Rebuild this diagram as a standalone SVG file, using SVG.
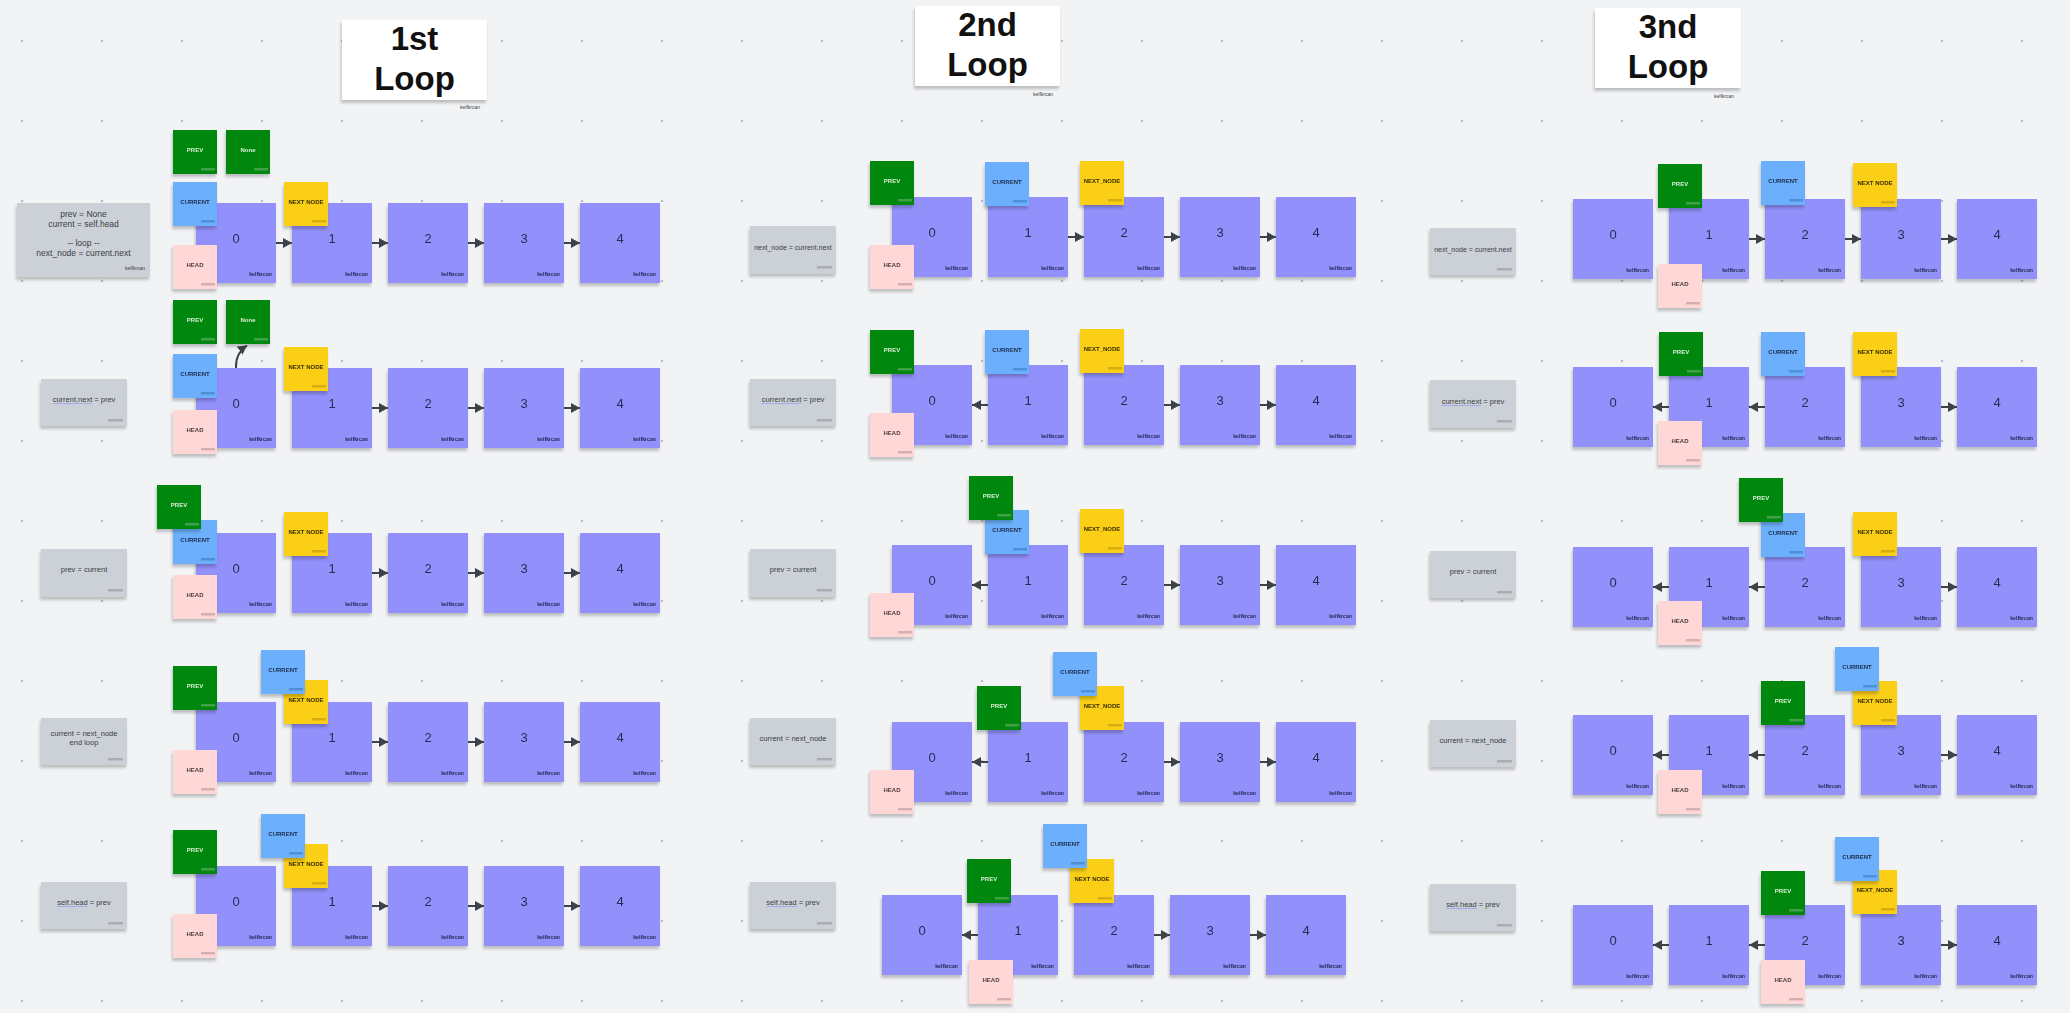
<svg xmlns="http://www.w3.org/2000/svg" width="2070" height="1013" viewBox="0 0 2070 1013">
<style>
text{font-family:"Liberation Sans",Arial,sans-serif}
.sh{filter:url(#shadow)}
.nb{fill:#9290fb}
.nt{font-size:13px;fill:#2a2b58;text-anchor:middle}
.sg{font-size:5.2px;font-weight:bold;fill:#2a2b58;text-anchor:end}
.lb{font-size:6px;font-weight:bold;text-anchor:middle}
.pv{fill:#06870f}.pvb{fill:#3fa046}.pvt{fill:#d6efd6}
.cu{fill:#6cb0fd}.cub{fill:#4f8fd6}.cut{fill:#1d2b48}
.nx{fill:#fbcf17}.nxb{fill:#d6ad10}.nxt{fill:#3a3000}
.hd{fill:#ffd7d7}.hdb{fill:#d6b0b0}.hdt{fill:#4d3c3c}
.gn{fill:#ccd1d8}.gnb{fill:#a9adb3}
.gt{font-size:7.5px;fill:#3b3d42;text-anchor:middle}
.gt8{font-size:8.5px;fill:#3b3d42;text-anchor:middle}
.gt7{font-size:7px;fill:#3b3d42;text-anchor:middle}
.gs{font-size:5px;fill:#3b3d42;text-anchor:end}
.tb{fill:#ffffff}
.tt{font-size:33px;font-weight:bold;fill:#111111;text-anchor:middle}
.cn{stroke:#3d4148;stroke-width:2;fill:none;marker-end:url(#ah)}
.ul{stroke:#8c8ff0;stroke-width:0.6}
</style>
<defs>
<pattern id="dots" patternUnits="userSpaceOnUse" x="-18" y="1" width="80" height="80">
<circle cx="40" cy="40" r="1.3" fill="#b9bdc4"/>
</pattern>
<filter id="shadow" x="-20%" y="-20%" width="140%" height="150%">
<feDropShadow dx="-1" dy="3" stdDeviation="1.5" flood-color="#000000" flood-opacity="0.22"/>
</filter>
<marker id="ah" markerUnits="userSpaceOnUse" markerWidth="10" markerHeight="11" refX="9" refY="5" orient="auto">
<path d="M0,0 L9,5 L0,10 Z" fill="#3d4148"/>
</marker>
</defs>
<rect width="2070" height="1013" fill="#f2f3f5"/>
<rect width="2070" height="1013" fill="url(#dots)"/>

<!-- Titles -->
<g id="title1"><rect class="tb sh" x="342" y="20" width="145" height="80"/><text class="tt" x="414.5" y="50">1st</text><text class="tt" x="414.5" y="90">Loop</text><text class="gs" x="480" y="109">kelfkrcan</text></g>
<g id="title2"><rect class="tb sh" x="915" y="6" width="145" height="80"/><text class="tt" x="987.5" y="36">2nd</text><text class="tt" x="987.5" y="76">Loop</text><text class="gs" x="1053" y="96">kelfkrcan</text></g>
<g id="title3"><rect class="tb sh" x="1595" y="8" width="146" height="80"/><text class="tt" x="1668" y="38">3nd</text><text class="tt" x="1668" y="78">Loop</text><text class="gs" x="1734" y="98">kelfkrcan</text></g>

<!-- Code notes -->
<g id="l1-note1"><rect class="gn sh" x="17" y="203" width="133" height="74"/><text class="gt8" x="83.5" y="217">prev = None</text><text class="gt8" x="83.5" y="227">current = self.head</text><text class="gt8" x="83.5" y="246">-- loop --</text><text class="gt8" x="83.5" y="256">next_node = current.next</text><text class="gs" x="145" y="270">kelfkrcan</text></g>
<g id="l1-note2"><rect class="gn sh" x="41" y="379" width="86" height="47"/><rect class="gnb" x="108" y="419" width="15" height="2.5"/><text class="gt" x="84" y="402">current.next = prev</text><line class="ul" x1="52.5" y1="403.5" x2="92" y2="403.5"/></g>
<g id="l1-note3"><rect class="gn sh" x="41" y="549" width="86" height="48"/><rect class="gnb" x="108" y="589" width="15" height="2.5"/><text class="gt" x="84" y="572">prev = current</text></g>
<g id="l1-note4"><rect class="gn sh" x="41" y="718" width="86" height="47"/><rect class="gnb" x="108" y="758" width="15" height="2.5"/><text class="gt" x="84" y="736">current = next_node</text><text class="gt" x="84" y="745">end loop</text></g>
<g id="l1-note5"><rect class="gn sh" x="41" y="882" width="86" height="47"/><rect class="gnb" x="108" y="922" width="15" height="2.5"/><text class="gt" x="84" y="905">self.head = prev</text><line class="ul" x1="57.2" y1="906.5" x2="87.6" y2="906.5"/></g>

<g id="l2-note1"><rect class="gn sh" x="750" y="226" width="86" height="48"/><rect class="gnb" x="817" y="266" width="15" height="2.5"/><text class="gt7" x="793" y="250">next_node = current.next</text></g>
<g id="l2-note2"><rect class="gn sh" x="750" y="379" width="86" height="47"/><rect class="gnb" x="817" y="419" width="15" height="2.5"/><text class="gt" x="793" y="402">current.next = prev</text><line class="ul" x1="761.5" y1="403.5" x2="801" y2="403.5"/></g>
<g id="l2-note3"><rect class="gn sh" x="750" y="549" width="86" height="48"/><rect class="gnb" x="817" y="589" width="15" height="2.5"/><text class="gt" x="793" y="572">prev = current</text></g>
<g id="l2-note4"><rect class="gn sh" x="750" y="718" width="86" height="47"/><rect class="gnb" x="817" y="758" width="15" height="2.5"/><text class="gt" x="793" y="741">current = next_node</text></g>
<g id="l2-note5"><rect class="gn sh" x="750" y="882" width="86" height="47"/><rect class="gnb" x="817" y="922" width="15" height="2.5"/><text class="gt" x="793" y="905">self.head = prev</text><line class="ul" x1="766.2" y1="906.5" x2="796.6" y2="906.5"/></g>

<g id="l3-note1"><rect class="gn sh" x="1430" y="228" width="86" height="47"/><rect class="gnb" x="1497" y="268" width="15" height="2.5"/><text class="gt7" x="1473" y="252">next_node = current.next</text></g>
<g id="l3-note2"><rect class="gn sh" x="1430" y="380" width="86" height="48"/><rect class="gnb" x="1497" y="420" width="15" height="2.5"/><text class="gt" x="1473" y="404">current.next = prev</text><line class="ul" x1="1441.5" y1="405.5" x2="1481" y2="405.5"/></g>
<g id="l3-note3"><rect class="gn sh" x="1430" y="551" width="86" height="47"/><rect class="gnb" x="1497" y="591" width="15" height="2.5"/><text class="gt" x="1473" y="574">prev = current</text></g>
<g id="l3-note4"><rect class="gn sh" x="1430" y="720" width="86" height="47"/><rect class="gnb" x="1497" y="760" width="15" height="2.5"/><text class="gt" x="1473" y="743">current = next_node</text></g>
<g id="l3-note5"><rect class="gn sh" x="1430" y="884" width="86" height="47"/><rect class="gnb" x="1497" y="924" width="15" height="2.5"/><text class="gt" x="1473" y="907">self.head = prev</text><line class="ul" x1="1446.2" y1="908.5" x2="1476.6" y2="908.5"/></g>

<!-- Loop 1 nodes -->
<g id="l1r1n0" class="sh"><rect class="nb" x="196" y="203" width="80" height="80"/><text class="nt" x="236" y="243">0</text><text class="sg" x="272" y="276">kelfkrcan</text></g>
<g id="l1r1n1" class="sh"><rect class="nb" x="292" y="203" width="80" height="80"/><text class="nt" x="332" y="243">1</text><text class="sg" x="368" y="276">kelfkrcan</text></g>
<g id="l1r1n2" class="sh"><rect class="nb" x="388" y="203" width="80" height="80"/><text class="nt" x="428" y="243">2</text><text class="sg" x="464" y="276">kelfkrcan</text></g>
<g id="l1r1n3" class="sh"><rect class="nb" x="484" y="203" width="80" height="80"/><text class="nt" x="524" y="243">3</text><text class="sg" x="560" y="276">kelfkrcan</text></g>
<g id="l1r1n4" class="sh"><rect class="nb" x="580" y="203" width="80" height="80"/><text class="nt" x="620" y="243">4</text><text class="sg" x="656" y="276">kelfkrcan</text></g>

<g id="l1r2n0" class="sh"><rect class="nb" x="196" y="368" width="80" height="80"/><text class="nt" x="236" y="408">0</text><text class="sg" x="272" y="441">kelfkrcan</text></g>
<g id="l1r2n1" class="sh"><rect class="nb" x="292" y="368" width="80" height="80"/><text class="nt" x="332" y="408">1</text><text class="sg" x="368" y="441">kelfkrcan</text></g>
<g id="l1r2n2" class="sh"><rect class="nb" x="388" y="368" width="80" height="80"/><text class="nt" x="428" y="408">2</text><text class="sg" x="464" y="441">kelfkrcan</text></g>
<g id="l1r2n3" class="sh"><rect class="nb" x="484" y="368" width="80" height="80"/><text class="nt" x="524" y="408">3</text><text class="sg" x="560" y="441">kelfkrcan</text></g>
<g id="l1r2n4" class="sh"><rect class="nb" x="580" y="368" width="80" height="80"/><text class="nt" x="620" y="408">4</text><text class="sg" x="656" y="441">kelfkrcan</text></g>

<g id="l1r3n0" class="sh"><rect class="nb" x="196" y="533" width="80" height="80"/><text class="nt" x="236" y="573">0</text><text class="sg" x="272" y="606">kelfkrcan</text></g>
<g id="l1r3n1" class="sh"><rect class="nb" x="292" y="533" width="80" height="80"/><text class="nt" x="332" y="573">1</text><text class="sg" x="368" y="606">kelfkrcan</text></g>
<g id="l1r3n2" class="sh"><rect class="nb" x="388" y="533" width="80" height="80"/><text class="nt" x="428" y="573">2</text><text class="sg" x="464" y="606">kelfkrcan</text></g>
<g id="l1r3n3" class="sh"><rect class="nb" x="484" y="533" width="80" height="80"/><text class="nt" x="524" y="573">3</text><text class="sg" x="560" y="606">kelfkrcan</text></g>
<g id="l1r3n4" class="sh"><rect class="nb" x="580" y="533" width="80" height="80"/><text class="nt" x="620" y="573">4</text><text class="sg" x="656" y="606">kelfkrcan</text></g>

<g id="l1r4n0" class="sh"><rect class="nb" x="196" y="702" width="80" height="80"/><text class="nt" x="236" y="742">0</text><text class="sg" x="272" y="775">kelfkrcan</text></g>
<g id="l1r4n1" class="sh"><rect class="nb" x="292" y="702" width="80" height="80"/><text class="nt" x="332" y="742">1</text><text class="sg" x="368" y="775">kelfkrcan</text></g>
<g id="l1r4n2" class="sh"><rect class="nb" x="388" y="702" width="80" height="80"/><text class="nt" x="428" y="742">2</text><text class="sg" x="464" y="775">kelfkrcan</text></g>
<g id="l1r4n3" class="sh"><rect class="nb" x="484" y="702" width="80" height="80"/><text class="nt" x="524" y="742">3</text><text class="sg" x="560" y="775">kelfkrcan</text></g>
<g id="l1r4n4" class="sh"><rect class="nb" x="580" y="702" width="80" height="80"/><text class="nt" x="620" y="742">4</text><text class="sg" x="656" y="775">kelfkrcan</text></g>

<g id="l1r5n0" class="sh"><rect class="nb" x="196" y="866" width="80" height="80"/><text class="nt" x="236" y="906">0</text><text class="sg" x="272" y="939">kelfkrcan</text></g>
<g id="l1r5n1" class="sh"><rect class="nb" x="292" y="866" width="80" height="80"/><text class="nt" x="332" y="906">1</text><text class="sg" x="368" y="939">kelfkrcan</text></g>
<g id="l1r5n2" class="sh"><rect class="nb" x="388" y="866" width="80" height="80"/><text class="nt" x="428" y="906">2</text><text class="sg" x="464" y="939">kelfkrcan</text></g>
<g id="l1r5n3" class="sh"><rect class="nb" x="484" y="866" width="80" height="80"/><text class="nt" x="524" y="906">3</text><text class="sg" x="560" y="939">kelfkrcan</text></g>
<g id="l1r5n4" class="sh"><rect class="nb" x="580" y="866" width="80" height="80"/><text class="nt" x="620" y="906">4</text><text class="sg" x="656" y="939">kelfkrcan</text></g>

<!-- Loop 2 nodes -->
<g id="l2r1n0" class="sh"><rect class="nb" x="892" y="197" width="80" height="80"/><text class="nt" x="932" y="237">0</text><text class="sg" x="968" y="270">kelfkrcan</text></g>
<g id="l2r1n1" class="sh"><rect class="nb" x="988" y="197" width="80" height="80"/><text class="nt" x="1028" y="237">1</text><text class="sg" x="1064" y="270">kelfkrcan</text></g>
<g id="l2r1n2" class="sh"><rect class="nb" x="1084" y="197" width="80" height="80"/><text class="nt" x="1124" y="237">2</text><text class="sg" x="1160" y="270">kelfkrcan</text></g>
<g id="l2r1n3" class="sh"><rect class="nb" x="1180" y="197" width="80" height="80"/><text class="nt" x="1220" y="237">3</text><text class="sg" x="1256" y="270">kelfkrcan</text></g>
<g id="l2r1n4" class="sh"><rect class="nb" x="1276" y="197" width="80" height="80"/><text class="nt" x="1316" y="237">4</text><text class="sg" x="1352" y="270">kelfkrcan</text></g>

<g id="l2r2n0" class="sh"><rect class="nb" x="892" y="365" width="80" height="80"/><text class="nt" x="932" y="405">0</text><text class="sg" x="968" y="438">kelfkrcan</text></g>
<g id="l2r2n1" class="sh"><rect class="nb" x="988" y="365" width="80" height="80"/><text class="nt" x="1028" y="405">1</text><text class="sg" x="1064" y="438">kelfkrcan</text></g>
<g id="l2r2n2" class="sh"><rect class="nb" x="1084" y="365" width="80" height="80"/><text class="nt" x="1124" y="405">2</text><text class="sg" x="1160" y="438">kelfkrcan</text></g>
<g id="l2r2n3" class="sh"><rect class="nb" x="1180" y="365" width="80" height="80"/><text class="nt" x="1220" y="405">3</text><text class="sg" x="1256" y="438">kelfkrcan</text></g>
<g id="l2r2n4" class="sh"><rect class="nb" x="1276" y="365" width="80" height="80"/><text class="nt" x="1316" y="405">4</text><text class="sg" x="1352" y="438">kelfkrcan</text></g>

<g id="l2r3n0" class="sh"><rect class="nb" x="892" y="545" width="80" height="80"/><text class="nt" x="932" y="585">0</text><text class="sg" x="968" y="618">kelfkrcan</text></g>
<g id="l2r3n1" class="sh"><rect class="nb" x="988" y="545" width="80" height="80"/><text class="nt" x="1028" y="585">1</text><text class="sg" x="1064" y="618">kelfkrcan</text></g>
<g id="l2r3n2" class="sh"><rect class="nb" x="1084" y="545" width="80" height="80"/><text class="nt" x="1124" y="585">2</text><text class="sg" x="1160" y="618">kelfkrcan</text></g>
<g id="l2r3n3" class="sh"><rect class="nb" x="1180" y="545" width="80" height="80"/><text class="nt" x="1220" y="585">3</text><text class="sg" x="1256" y="618">kelfkrcan</text></g>
<g id="l2r3n4" class="sh"><rect class="nb" x="1276" y="545" width="80" height="80"/><text class="nt" x="1316" y="585">4</text><text class="sg" x="1352" y="618">kelfkrcan</text></g>

<g id="l2r4n0" class="sh"><rect class="nb" x="892" y="722" width="80" height="80"/><text class="nt" x="932" y="762">0</text><text class="sg" x="968" y="795">kelfkrcan</text></g>
<g id="l2r4n1" class="sh"><rect class="nb" x="988" y="722" width="80" height="80"/><text class="nt" x="1028" y="762">1</text><text class="sg" x="1064" y="795">kelfkrcan</text></g>
<g id="l2r4n2" class="sh"><rect class="nb" x="1084" y="722" width="80" height="80"/><text class="nt" x="1124" y="762">2</text><text class="sg" x="1160" y="795">kelfkrcan</text></g>
<g id="l2r4n3" class="sh"><rect class="nb" x="1180" y="722" width="80" height="80"/><text class="nt" x="1220" y="762">3</text><text class="sg" x="1256" y="795">kelfkrcan</text></g>
<g id="l2r4n4" class="sh"><rect class="nb" x="1276" y="722" width="80" height="80"/><text class="nt" x="1316" y="762">4</text><text class="sg" x="1352" y="795">kelfkrcan</text></g>

<g id="l2r5n0" class="sh"><rect class="nb" x="882" y="895" width="80" height="80"/><text class="nt" x="922" y="935">0</text><text class="sg" x="958" y="968">kelfkrcan</text></g>
<g id="l2r5n1" class="sh"><rect class="nb" x="978" y="895" width="80" height="80"/><text class="nt" x="1018" y="935">1</text><text class="sg" x="1054" y="968">kelfkrcan</text></g>
<g id="l2r5n2" class="sh"><rect class="nb" x="1074" y="895" width="80" height="80"/><text class="nt" x="1114" y="935">2</text><text class="sg" x="1150" y="968">kelfkrcan</text></g>
<g id="l2r5n3" class="sh"><rect class="nb" x="1170" y="895" width="80" height="80"/><text class="nt" x="1210" y="935">3</text><text class="sg" x="1246" y="968">kelfkrcan</text></g>
<g id="l2r5n4" class="sh"><rect class="nb" x="1266" y="895" width="80" height="80"/><text class="nt" x="1306" y="935">4</text><text class="sg" x="1342" y="968">kelfkrcan</text></g>

<!-- Loop 3 nodes -->
<g id="l3r1n0" class="sh"><rect class="nb" x="1573" y="199" width="80" height="80"/><text class="nt" x="1613" y="239">0</text><text class="sg" x="1649" y="272">kelfkrcan</text></g>
<g id="l3r1n1" class="sh"><rect class="nb" x="1669" y="199" width="80" height="80"/><text class="nt" x="1709" y="239">1</text><text class="sg" x="1745" y="272">kelfkrcan</text></g>
<g id="l3r1n2" class="sh"><rect class="nb" x="1765" y="199" width="80" height="80"/><text class="nt" x="1805" y="239">2</text><text class="sg" x="1841" y="272">kelfkrcan</text></g>
<g id="l3r1n3" class="sh"><rect class="nb" x="1861" y="199" width="80" height="80"/><text class="nt" x="1901" y="239">3</text><text class="sg" x="1937" y="272">kelfkrcan</text></g>
<g id="l3r1n4" class="sh"><rect class="nb" x="1957" y="199" width="80" height="80"/><text class="nt" x="1997" y="239">4</text><text class="sg" x="2033" y="272">kelfkrcan</text></g>

<g id="l3r2n0" class="sh"><rect class="nb" x="1573" y="367" width="80" height="80"/><text class="nt" x="1613" y="407">0</text><text class="sg" x="1649" y="440">kelfkrcan</text></g>
<g id="l3r2n1" class="sh"><rect class="nb" x="1669" y="367" width="80" height="80"/><text class="nt" x="1709" y="407">1</text><text class="sg" x="1745" y="440">kelfkrcan</text></g>
<g id="l3r2n2" class="sh"><rect class="nb" x="1765" y="367" width="80" height="80"/><text class="nt" x="1805" y="407">2</text><text class="sg" x="1841" y="440">kelfkrcan</text></g>
<g id="l3r2n3" class="sh"><rect class="nb" x="1861" y="367" width="80" height="80"/><text class="nt" x="1901" y="407">3</text><text class="sg" x="1937" y="440">kelfkrcan</text></g>
<g id="l3r2n4" class="sh"><rect class="nb" x="1957" y="367" width="80" height="80"/><text class="nt" x="1997" y="407">4</text><text class="sg" x="2033" y="440">kelfkrcan</text></g>

<g id="l3r3n0" class="sh"><rect class="nb" x="1573" y="547" width="80" height="80"/><text class="nt" x="1613" y="587">0</text><text class="sg" x="1649" y="620">kelfkrcan</text></g>
<g id="l3r3n1" class="sh"><rect class="nb" x="1669" y="547" width="80" height="80"/><text class="nt" x="1709" y="587">1</text><text class="sg" x="1745" y="620">kelfkrcan</text></g>
<g id="l3r3n2" class="sh"><rect class="nb" x="1765" y="547" width="80" height="80"/><text class="nt" x="1805" y="587">2</text><text class="sg" x="1841" y="620">kelfkrcan</text></g>
<g id="l3r3n3" class="sh"><rect class="nb" x="1861" y="547" width="80" height="80"/><text class="nt" x="1901" y="587">3</text><text class="sg" x="1937" y="620">kelfkrcan</text></g>
<g id="l3r3n4" class="sh"><rect class="nb" x="1957" y="547" width="80" height="80"/><text class="nt" x="1997" y="587">4</text><text class="sg" x="2033" y="620">kelfkrcan</text></g>

<g id="l3r4n0" class="sh"><rect class="nb" x="1573" y="715" width="80" height="80"/><text class="nt" x="1613" y="755">0</text><text class="sg" x="1649" y="788">kelfkrcan</text></g>
<g id="l3r4n1" class="sh"><rect class="nb" x="1669" y="715" width="80" height="80"/><text class="nt" x="1709" y="755">1</text><text class="sg" x="1745" y="788">kelfkrcan</text></g>
<g id="l3r4n2" class="sh"><rect class="nb" x="1765" y="715" width="80" height="80"/><text class="nt" x="1805" y="755">2</text><text class="sg" x="1841" y="788">kelfkrcan</text></g>
<g id="l3r4n3" class="sh"><rect class="nb" x="1861" y="715" width="80" height="80"/><text class="nt" x="1901" y="755">3</text><text class="sg" x="1937" y="788">kelfkrcan</text></g>
<g id="l3r4n4" class="sh"><rect class="nb" x="1957" y="715" width="80" height="80"/><text class="nt" x="1997" y="755">4</text><text class="sg" x="2033" y="788">kelfkrcan</text></g>

<g id="l3r5n0" class="sh"><rect class="nb" x="1573" y="905" width="80" height="80"/><text class="nt" x="1613" y="945">0</text><text class="sg" x="1649" y="978">kelfkrcan</text></g>
<g id="l3r5n1" class="sh"><rect class="nb" x="1669" y="905" width="80" height="80"/><text class="nt" x="1709" y="945">1</text><text class="sg" x="1745" y="978">kelfkrcan</text></g>
<g id="l3r5n2" class="sh"><rect class="nb" x="1765" y="905" width="80" height="80"/><text class="nt" x="1805" y="945">2</text><text class="sg" x="1841" y="978">kelfkrcan</text></g>
<g id="l3r5n3" class="sh"><rect class="nb" x="1861" y="905" width="80" height="80"/><text class="nt" x="1901" y="945">3</text><text class="sg" x="1937" y="978">kelfkrcan</text></g>
<g id="l3r5n4" class="sh"><rect class="nb" x="1957" y="905" width="80" height="80"/><text class="nt" x="1997" y="945">4</text><text class="sg" x="2033" y="978">kelfkrcan</text></g>

<!-- Connectors -->
<g id="connectors">
<line class="cn" x1="276" y1="243" x2="292" y2="243"/>
<line class="cn" x1="372" y1="243" x2="388" y2="243"/>
<line class="cn" x1="468" y1="243" x2="484" y2="243"/>
<line class="cn" x1="564" y1="243" x2="580" y2="243"/>
<path class="cn" d="M236,368 C235.5,358 239,351 247,345.5"/>
<line class="cn" x1="372" y1="408" x2="388" y2="408"/>
<line class="cn" x1="468" y1="408" x2="484" y2="408"/>
<line class="cn" x1="564" y1="408" x2="580" y2="408"/>
<line class="cn" x1="372" y1="573" x2="388" y2="573"/>
<line class="cn" x1="468" y1="573" x2="484" y2="573"/>
<line class="cn" x1="564" y1="573" x2="580" y2="573"/>
<line class="cn" x1="372" y1="742" x2="388" y2="742"/>
<line class="cn" x1="468" y1="742" x2="484" y2="742"/>
<line class="cn" x1="564" y1="742" x2="580" y2="742"/>
<line class="cn" x1="372" y1="906" x2="388" y2="906"/>
<line class="cn" x1="468" y1="906" x2="484" y2="906"/>
<line class="cn" x1="564" y1="906" x2="580" y2="906"/>

<line class="cn" x1="1068" y1="237" x2="1084" y2="237"/>
<line class="cn" x1="1164" y1="237" x2="1180" y2="237"/>
<line class="cn" x1="1260" y1="237" x2="1276" y2="237"/>
<line class="cn" x1="988" y1="405" x2="972" y2="405"/>
<line class="cn" x1="1164" y1="405" x2="1180" y2="405"/>
<line class="cn" x1="1260" y1="405" x2="1276" y2="405"/>
<line class="cn" x1="988" y1="585" x2="972" y2="585"/>
<line class="cn" x1="1164" y1="585" x2="1180" y2="585"/>
<line class="cn" x1="1260" y1="585" x2="1276" y2="585"/>
<line class="cn" x1="988" y1="762" x2="972" y2="762"/>
<line class="cn" x1="1164" y1="762" x2="1180" y2="762"/>
<line class="cn" x1="1260" y1="762" x2="1276" y2="762"/>
<line class="cn" x1="978" y1="935" x2="962" y2="935"/>
<line class="cn" x1="1154" y1="935" x2="1170" y2="935"/>
<line class="cn" x1="1250" y1="935" x2="1266" y2="935"/>

<line class="cn" x1="1749" y1="239" x2="1765" y2="239"/>
<line class="cn" x1="1845" y1="239" x2="1861" y2="239"/>
<line class="cn" x1="1941" y1="239" x2="1957" y2="239"/>
<line class="cn" x1="1669" y1="407" x2="1653" y2="407"/>
<line class="cn" x1="1765" y1="407" x2="1749" y2="407"/>
<line class="cn" x1="1941" y1="407" x2="1957" y2="407"/>
<line class="cn" x1="1669" y1="587" x2="1653" y2="587"/>
<line class="cn" x1="1765" y1="587" x2="1749" y2="587"/>
<line class="cn" x1="1941" y1="587" x2="1957" y2="587"/>
<line class="cn" x1="1669" y1="755" x2="1653" y2="755"/>
<line class="cn" x1="1765" y1="755" x2="1749" y2="755"/>
<line class="cn" x1="1941" y1="755" x2="1957" y2="755"/>
<line class="cn" x1="1669" y1="945" x2="1653" y2="945"/>
<line class="cn" x1="1765" y1="945" x2="1749" y2="945"/>
<line class="cn" x1="1941" y1="945" x2="1957" y2="945"/>
</g>

<!-- Loop 1 stickies -->
<g id="l1r1-prev" class="sh"><rect class="pv" x="173" y="130" width="44" height="44"/><rect class="pvb" x="201" y="168" width="14" height="2.5"/><text class="lb pvt" x="195" y="152">PREV</text></g>
<g id="l1r1-none" class="sh"><rect class="pv" x="226" y="130" width="44" height="44"/><rect class="pvb" x="254" y="168" width="14" height="2.5"/><text class="lb pvt" x="248" y="152">None</text></g>
<g id="l1r1-current" class="sh"><rect class="cu" x="173" y="182" width="44" height="44"/><rect class="cub" x="201" y="220" width="14" height="2.5"/><text class="lb cut" x="195" y="204">CURRENT</text></g>
<g id="l1r1-next" class="sh"><rect class="nx" x="284" y="182" width="44" height="44"/><rect class="nxb" x="312" y="220" width="14" height="2.5"/><text class="lb nxt" x="306" y="204">NEXT NODE</text></g>
<g id="l1r1-head" class="sh"><rect class="hd" x="173" y="245" width="44" height="44"/><rect class="hdb" x="201" y="283" width="14" height="2.5"/><text class="lb hdt" x="195" y="267">HEAD</text></g>

<g id="l1r2-prev" class="sh"><rect class="pv" x="173" y="300" width="44" height="44"/><rect class="pvb" x="201" y="338" width="14" height="2.5"/><text class="lb pvt" x="195" y="322">PREV</text></g>
<g id="l1r2-none" class="sh"><rect class="pv" x="226" y="300" width="44" height="44"/><rect class="pvb" x="254" y="338" width="14" height="2.5"/><text class="lb pvt" x="248" y="322">None</text></g>
<g id="l1r2-current" class="sh"><rect class="cu" x="173" y="354" width="44" height="44"/><rect class="cub" x="201" y="392" width="14" height="2.5"/><text class="lb cut" x="195" y="376">CURRENT</text></g>
<g id="l1r2-next" class="sh"><rect class="nx" x="284" y="347" width="44" height="44"/><rect class="nxb" x="312" y="385" width="14" height="2.5"/><text class="lb nxt" x="306" y="369">NEXT NODE</text></g>
<g id="l1r2-head" class="sh"><rect class="hd" x="173" y="410" width="44" height="44"/><rect class="hdb" x="201" y="448" width="14" height="2.5"/><text class="lb hdt" x="195" y="432">HEAD</text></g>

<g id="l1r3-current" class="sh"><rect class="cu" x="173" y="520" width="44" height="44"/><rect class="cub" x="201" y="558" width="14" height="2.5"/><text class="lb cut" x="195" y="542">CURRENT</text></g>
<g id="l1r3-prev" class="sh"><rect class="pv" x="157" y="485" width="44" height="44"/><rect class="pvb" x="185" y="523" width="14" height="2.5"/><text class="lb pvt" x="179" y="507">PREV</text></g>
<g id="l1r3-next" class="sh"><rect class="nx" x="284" y="512" width="44" height="44"/><rect class="nxb" x="312" y="550" width="14" height="2.5"/><text class="lb nxt" x="306" y="534">NEXT NODE</text></g>
<g id="l1r3-head" class="sh"><rect class="hd" x="173" y="575" width="44" height="44"/><rect class="hdb" x="201" y="613" width="14" height="2.5"/><text class="lb hdt" x="195" y="597">HEAD</text></g>

<g id="l1r4-prev" class="sh"><rect class="pv" x="173" y="666" width="44" height="44"/><rect class="pvb" x="201" y="704" width="14" height="2.5"/><text class="lb pvt" x="195" y="688">PREV</text></g>
<g id="l1r4-next" class="sh"><rect class="nx" x="284" y="680" width="44" height="44"/><rect class="nxb" x="312" y="718" width="14" height="2.5"/><text class="lb nxt" x="306" y="702">NEXT NODE</text></g>
<g id="l1r4-current" class="sh"><rect class="cu" x="261" y="650" width="44" height="44"/><rect class="cub" x="289" y="688" width="14" height="2.5"/><text class="lb cut" x="283" y="672">CURRENT</text></g>
<g id="l1r4-head" class="sh"><rect class="hd" x="173" y="750" width="44" height="44"/><rect class="hdb" x="201" y="788" width="14" height="2.5"/><text class="lb hdt" x="195" y="772">HEAD</text></g>

<g id="l1r5-prev" class="sh"><rect class="pv" x="173" y="830" width="44" height="44"/><rect class="pvb" x="201" y="868" width="14" height="2.5"/><text class="lb pvt" x="195" y="852">PREV</text></g>
<g id="l1r5-next" class="sh"><rect class="nx" x="284" y="844" width="44" height="44"/><rect class="nxb" x="312" y="882" width="14" height="2.5"/><text class="lb nxt" x="306" y="866">NEXT NODE</text></g>
<g id="l1r5-current" class="sh"><rect class="cu" x="261" y="814" width="44" height="44"/><rect class="cub" x="289" y="852" width="14" height="2.5"/><text class="lb cut" x="283" y="836">CURRENT</text></g>
<g id="l1r5-head" class="sh"><rect class="hd" x="173" y="914" width="44" height="44"/><rect class="hdb" x="201" y="952" width="14" height="2.5"/><text class="lb hdt" x="195" y="936">HEAD</text></g>

<!-- Loop 2 stickies -->
<g id="l2r1-prev" class="sh"><rect class="pv" x="870" y="161" width="44" height="44"/><rect class="pvb" x="898" y="199" width="14" height="2.5"/><text class="lb pvt" x="892" y="183">PREV</text></g>
<g id="l2r1-current" class="sh"><rect class="cu" x="985" y="162" width="44" height="44"/><rect class="cub" x="1013" y="200" width="14" height="2.5"/><text class="lb cut" x="1007" y="184">CURRENT</text></g>
<g id="l2r1-next" class="sh"><rect class="nx" x="1080" y="161" width="44" height="44"/><rect class="nxb" x="1108" y="199" width="14" height="2.5"/><text class="lb nxt" x="1102" y="183">NEXT_NODE</text></g>
<g id="l2r1-head" class="sh"><rect class="hd" x="870" y="245" width="44" height="44"/><rect class="hdb" x="898" y="283" width="14" height="2.5"/><text class="lb hdt" x="892" y="267">HEAD</text></g>

<g id="l2r2-prev" class="sh"><rect class="pv" x="870" y="330" width="44" height="44"/><rect class="pvb" x="898" y="368" width="14" height="2.5"/><text class="lb pvt" x="892" y="352">PREV</text></g>
<g id="l2r2-current" class="sh"><rect class="cu" x="985" y="330" width="44" height="44"/><rect class="cub" x="1013" y="368" width="14" height="2.5"/><text class="lb cut" x="1007" y="352">CURRENT</text></g>
<g id="l2r2-next" class="sh"><rect class="nx" x="1080" y="329" width="44" height="44"/><rect class="nxb" x="1108" y="367" width="14" height="2.5"/><text class="lb nxt" x="1102" y="351">NEXT_NODE</text></g>
<g id="l2r2-head" class="sh"><rect class="hd" x="870" y="413" width="44" height="44"/><rect class="hdb" x="898" y="451" width="14" height="2.5"/><text class="lb hdt" x="892" y="435">HEAD</text></g>

<g id="l2r3-current" class="sh"><rect class="cu" x="985" y="510" width="44" height="44"/><rect class="cub" x="1013" y="548" width="14" height="2.5"/><text class="lb cut" x="1007" y="532">CURRENT</text></g>
<g id="l2r3-prev" class="sh"><rect class="pv" x="969" y="476" width="44" height="44"/><rect class="pvb" x="997" y="514" width="14" height="2.5"/><text class="lb pvt" x="991" y="498">PREV</text></g>
<g id="l2r3-next" class="sh"><rect class="nx" x="1080" y="509" width="44" height="44"/><rect class="nxb" x="1108" y="547" width="14" height="2.5"/><text class="lb nxt" x="1102" y="531">NEXT_NODE</text></g>
<g id="l2r3-head" class="sh"><rect class="hd" x="870" y="593" width="44" height="44"/><rect class="hdb" x="898" y="631" width="14" height="2.5"/><text class="lb hdt" x="892" y="615">HEAD</text></g>

<g id="l2r4-prev" class="sh"><rect class="pv" x="977" y="686" width="44" height="44"/><rect class="pvb" x="1005" y="724" width="14" height="2.5"/><text class="lb pvt" x="999" y="708">PREV</text></g>
<g id="l2r4-next" class="sh"><rect class="nx" x="1080" y="686" width="44" height="44"/><rect class="nxb" x="1108" y="724" width="14" height="2.5"/><text class="lb nxt" x="1102" y="708">NEXT_NODE</text></g>
<g id="l2r4-current" class="sh"><rect class="cu" x="1053" y="652" width="44" height="44"/><rect class="cub" x="1081" y="690" width="14" height="2.5"/><text class="lb cut" x="1075" y="674">CURRENT</text></g>
<g id="l2r4-head" class="sh"><rect class="hd" x="870" y="770" width="44" height="44"/><rect class="hdb" x="898" y="808" width="14" height="2.5"/><text class="lb hdt" x="892" y="792">HEAD</text></g>

<g id="l2r5-prev" class="sh"><rect class="pv" x="967" y="859" width="44" height="44"/><rect class="pvb" x="995" y="897" width="14" height="2.5"/><text class="lb pvt" x="989" y="881">PREV</text></g>
<g id="l2r5-next" class="sh"><rect class="nx" x="1070" y="859" width="44" height="44"/><rect class="nxb" x="1098" y="897" width="14" height="2.5"/><text class="lb nxt" x="1092" y="881">NEXT NODE</text></g>
<g id="l2r5-current" class="sh"><rect class="cu" x="1043" y="824" width="44" height="44"/><rect class="cub" x="1071" y="862" width="14" height="2.5"/><text class="lb cut" x="1065" y="846">CURRENT</text></g>
<g id="l2r5-head" class="sh"><rect class="hd" x="969" y="960" width="44" height="44"/><rect class="hdb" x="997" y="998" width="14" height="2.5"/><text class="lb hdt" x="991" y="982">HEAD</text></g>

<!-- Loop 3 stickies -->
<g id="l3r1-prev" class="sh"><rect class="pv" x="1658" y="164" width="44" height="44"/><rect class="pvb" x="1686" y="202" width="14" height="2.5"/><text class="lb pvt" x="1680" y="186">PREV</text></g>
<g id="l3r1-current" class="sh"><rect class="cu" x="1761" y="161" width="44" height="44"/><rect class="cub" x="1789" y="199" width="14" height="2.5"/><text class="lb cut" x="1783" y="183">CURRENT</text></g>
<g id="l3r1-next" class="sh"><rect class="nx" x="1853" y="163" width="44" height="44"/><rect class="nxb" x="1881" y="201" width="14" height="2.5"/><text class="lb nxt" x="1875" y="185">NEXT NODE</text></g>
<g id="l3r1-head" class="sh"><rect class="hd" x="1658" y="264" width="44" height="44"/><rect class="hdb" x="1686" y="302" width="14" height="2.5"/><text class="lb hdt" x="1680" y="286">HEAD</text></g>

<g id="l3r2-prev" class="sh"><rect class="pv" x="1659" y="332" width="44" height="44"/><rect class="pvb" x="1687" y="370" width="14" height="2.5"/><text class="lb pvt" x="1681" y="354">PREV</text></g>
<g id="l3r2-current" class="sh"><rect class="cu" x="1761" y="332" width="44" height="44"/><rect class="cub" x="1789" y="370" width="14" height="2.5"/><text class="lb cut" x="1783" y="354">CURRENT</text></g>
<g id="l3r2-next" class="sh"><rect class="nx" x="1853" y="332" width="44" height="44"/><rect class="nxb" x="1881" y="370" width="14" height="2.5"/><text class="lb nxt" x="1875" y="354">NEXT NODE</text></g>
<g id="l3r2-head" class="sh"><rect class="hd" x="1658" y="421" width="44" height="44"/><rect class="hdb" x="1686" y="459" width="14" height="2.5"/><text class="lb hdt" x="1680" y="443">HEAD</text></g>

<g id="l3r3-current" class="sh"><rect class="cu" x="1761" y="513" width="44" height="44"/><rect class="cub" x="1789" y="551" width="14" height="2.5"/><text class="lb cut" x="1783" y="535">CURRENT</text></g>
<g id="l3r3-prev" class="sh"><rect class="pv" x="1739" y="478" width="44" height="44"/><rect class="pvb" x="1767" y="516" width="14" height="2.5"/><text class="lb pvt" x="1761" y="500">PREV</text></g>
<g id="l3r3-next" class="sh"><rect class="nx" x="1853" y="512" width="44" height="44"/><rect class="nxb" x="1881" y="550" width="14" height="2.5"/><text class="lb nxt" x="1875" y="534">NEXT NODE</text></g>
<g id="l3r3-head" class="sh"><rect class="hd" x="1658" y="601" width="44" height="44"/><rect class="hdb" x="1686" y="639" width="14" height="2.5"/><text class="lb hdt" x="1680" y="623">HEAD</text></g>

<g id="l3r4-prev" class="sh"><rect class="pv" x="1761" y="681" width="44" height="44"/><rect class="pvb" x="1789" y="719" width="14" height="2.5"/><text class="lb pvt" x="1783" y="703">PREV</text></g>
<g id="l3r4-next" class="sh"><rect class="nx" x="1853" y="681" width="44" height="44"/><rect class="nxb" x="1881" y="719" width="14" height="2.5"/><text class="lb nxt" x="1875" y="703">NEXT NODE</text></g>
<g id="l3r4-current" class="sh"><rect class="cu" x="1835" y="647" width="44" height="44"/><rect class="cub" x="1863" y="685" width="14" height="2.5"/><text class="lb cut" x="1857" y="669">CURRENT</text></g>
<g id="l3r4-head" class="sh"><rect class="hd" x="1658" y="770" width="44" height="44"/><rect class="hdb" x="1686" y="808" width="14" height="2.5"/><text class="lb hdt" x="1680" y="792">HEAD</text></g>

<g id="l3r5-prev" class="sh"><rect class="pv" x="1761" y="871" width="44" height="44"/><rect class="pvb" x="1789" y="909" width="14" height="2.5"/><text class="lb pvt" x="1783" y="893">PREV</text></g>
<g id="l3r5-next" class="sh"><rect class="nx" x="1853" y="870" width="44" height="44"/><rect class="nxb" x="1881" y="908" width="14" height="2.5"/><text class="lb nxt" x="1875" y="892">NEXT_NODE</text></g>
<g id="l3r5-current" class="sh"><rect class="cu" x="1835" y="837" width="44" height="44"/><rect class="cub" x="1863" y="875" width="14" height="2.5"/><text class="lb cut" x="1857" y="859">CURRENT</text></g>
<g id="l3r5-head" class="sh"><rect class="hd" x="1761" y="960" width="44" height="44"/><rect class="hdb" x="1789" y="998" width="14" height="2.5"/><text class="lb hdt" x="1783" y="982">HEAD</text></g>
</svg>
